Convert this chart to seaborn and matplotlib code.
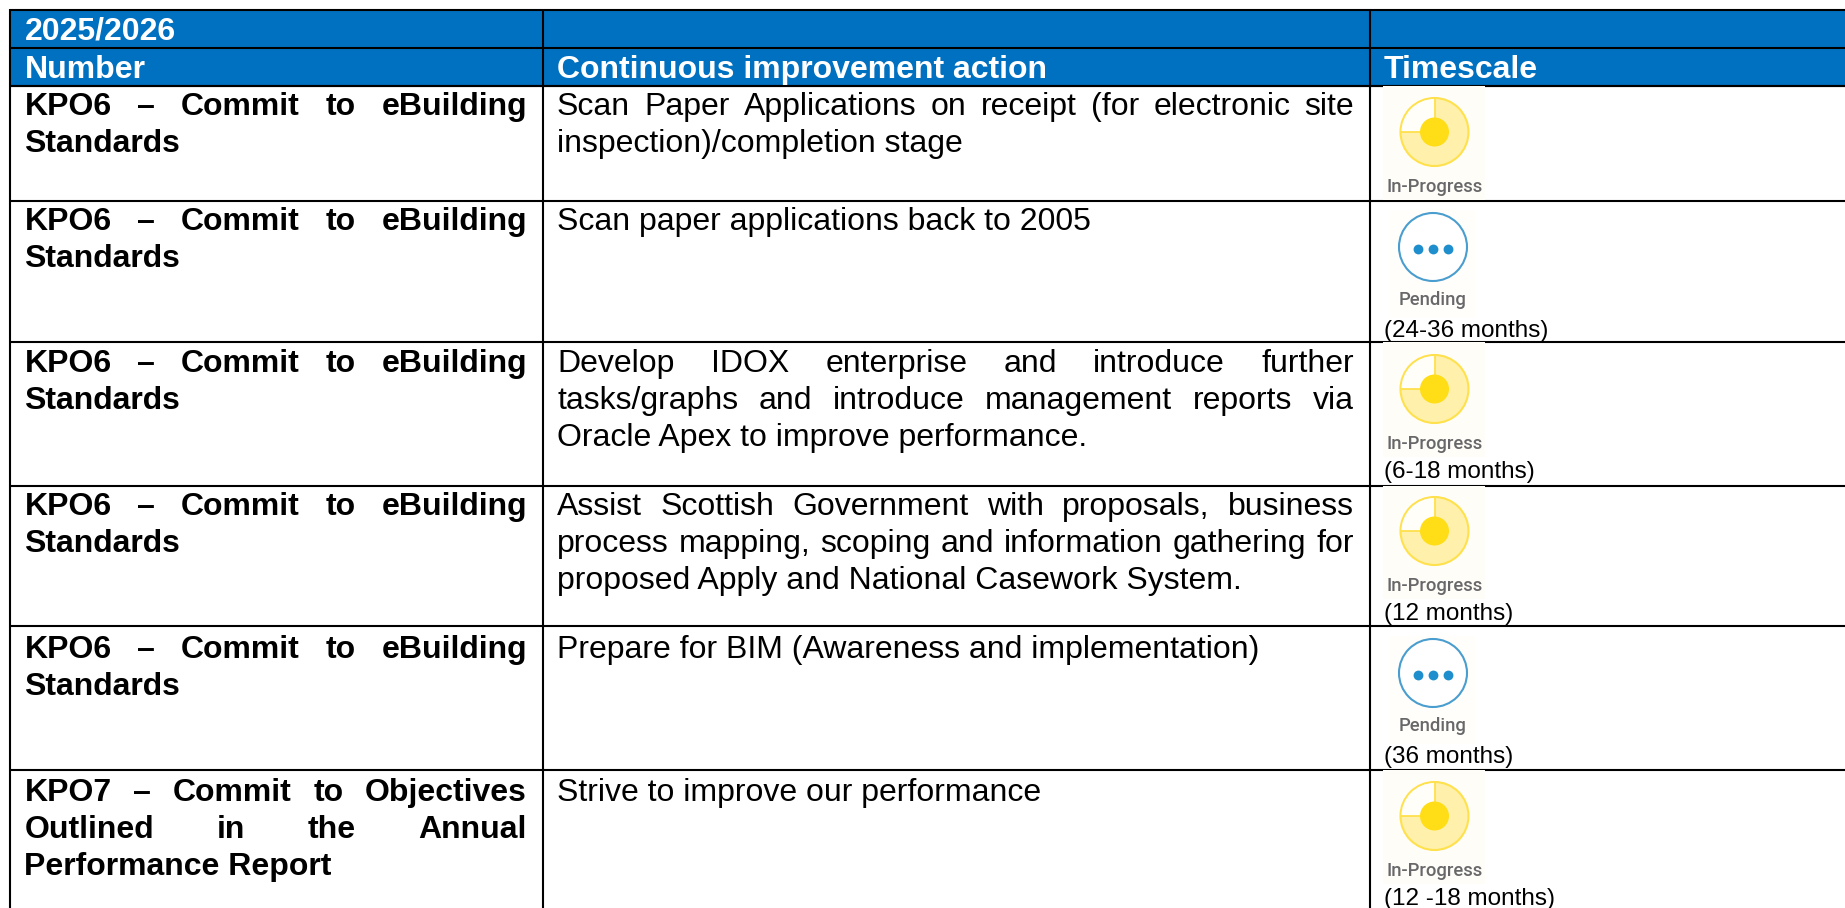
import matplotlib
matplotlib.use("Agg")
import matplotlib.pyplot as plt
import pandas as pd
import seaborn as sns
from matplotlib.patches import Circle, Rectangle, Wedge

# table content
YEAR = "2025/2026"
HEADERS = ["Number", "Continuous improvement action", "Timescale"]
KPO6 = ["KPO6 – Commit to eBuilding", "Standards"]
KPO7 = ["KPO7 – Commit to Objectives", "Outlined in the Annual", "Performance Report"]
NUMBERS = [KPO6, KPO6, KPO6, KPO6, KPO6, KPO7]
ACTIONS = [
    ["Scan Paper Applications on receipt (for electronic site", "inspection)/completion stage"],
    ["Scan paper applications back to 2005"],
    ["Develop IDOX enterprise and introduce further",
     "tasks/graphs and introduce management reports via",
     "Oracle Apex to improve performance."],
    ["Assist Scottish Government with proposals, business",
     "process mapping, scoping and information gathering for",
     "proposed Apply and National Casework System."],
    ["Prepare for BIM (Awareness and implementation)"],
    ["Strive to improve our performance"],
]
STATUS = ["In-Progress", "Pending", "In-Progress", "In-Progress", "Pending", "In-Progress"]
DURATION = ["", "(24-36 months)", "(6-18 months)", "(12 months)", "(36 months)", "(12 -18 months)"]

# layout in pixels of the 1845x908 picture
W, H = 1845, 908
BLUE = "#0070C0"
HEAD_LINES = [10, 48, 86]
ROW_LINES = [86, 201, 342, 486, 626, 770]
COL_X = [10, 543, 1370]
COL1 = (24.5, 527)
COL2 = (557, 1354)
LINE_H = 37
FIRST_BASE = [115, 230, 372, 515, 658, 801]
DUR_BASE = [None, 337, 478, 620, 763, 905]
ICON_CY = [132, 247, 389, 531, 673, 816]
FS = 32 * 0.72
FS_DUR = 24.2 * 0.72

sns.set_theme(style="white")
plt.rcParams["font.family"] = ["Liberation Sans", "DejaVu Sans"]


def draw_line(ax, renderer, s, x0, x1, y, justify, **kw):
    words = s.split(" ")
    if not justify or len(words) < 2:
        ax.text(x0, y, s, va="baseline", ha="left", **kw)
        return
    items = [ax.text(x0, y, w, va="baseline", ha="left", **kw) for w in words]
    widths = [renderer.get_text_width_height_descent(w, t.get_fontproperties(), False)[0]
              for w, t in zip(words, items)]
    gap = (x1 - x0 - sum(widths)) / (len(words) - 1)
    x = x0
    for t, wd in zip(items, widths):
        t.set_x(x)
        x += wd + gap


def draw_block(ax, renderer, lines, x0, x1, y, **kw):
    # every line but the last is justified, like the Word table
    for i, s in enumerate(lines):
        draw_line(ax, renderer, s, x0, x1, y + i * LINE_H, i < len(lines) - 1, **kw)


def draw_in_progress(ax, top, cy):
    ax.add_patch(Rectangle((1383, top), 102, cy - top + 68, fc="#FFFDF8", ec="none", zorder=3))
    cx = 1434.5
    ax.add_patch(Circle((cx, cy), 34, fc="#FFF1AC", ec="#FFE04D", lw=1.5, zorder=4))
    ax.add_patch(Wedge((cx, cy), 33, 180, 270, fc="#FFFEF8", ec="none", zorder=4))
    ax.plot([cx, cx], [cy - 34, cy], color="#FFE04D", lw=1.3, zorder=4)
    ax.plot([cx - 34, cx], [cy, cy], color="#FFE04D", lw=1.3, zorder=4)
    ax.add_patch(Circle((cx, cy), 14.5, fc="#FFDD17", ec="none", zorder=5))
    ax.text(1435, cy + 60, "In-Progress", ha="center", va="baseline", color="#68686A",
            fontsize=13.3, family="Roboto", weight="medium", zorder=5)


def draw_pending(ax, cy):
    ax.add_patch(Rectangle((1390, cy - 37), 85, 108, fc="#FFFEFB", ec="none", zorder=3))
    cx = 1433
    ax.add_patch(Circle((cx, cy), 34, fc="white", ec="#4A9ECF", lw=1.5, zorder=4))
    dots = pd.DataFrame({"x": [cx - 15, cx, cx + 15], "y": [cy + 1.5] * 3})
    sns.scatterplot(data=dots, x="x", y="y", s=50, color="#1E8FCC", linewidth=0, ax=ax, zorder=5)
    ax.text(cx, cy + 58, "Pending", ha="center", va="baseline", color="#68686A",
            fontsize=13.3, family="Roboto", weight="medium", zorder=5)


def main():
    fig = plt.figure(figsize=(W / 100, H / 100), dpi=100)
    ax = fig.add_axes([0, 0, 1, 1])
    renderer = fig.canvas.get_renderer()

    # header band and grid
    ax.add_patch(Rectangle((COL_X[0], HEAD_LINES[0]), W - COL_X[0], HEAD_LINES[2] - HEAD_LINES[0],
                           fc=BLUE, ec="none", zorder=1))
    for y in HEAD_LINES + ROW_LINES:
        ax.plot([COL_X[0], W], [y, y], color="black", lw=1.5, zorder=2, solid_capstyle="butt")
    for x in COL_X:
        ax.plot([x, x], [9, H], color="black", lw=1.5, zorder=2, solid_capstyle="butt")

    head = dict(color="white", fontsize=FS, weight="bold", zorder=6)
    ax.text(COL1[0], 39, YEAR, va="baseline", **head)
    ax.text(COL1[0], 78, HEADERS[0], va="baseline", **head)
    ax.text(COL2[0], 78, HEADERS[1], va="baseline", **head)
    ax.text(1384, 78, HEADERS[2], va="baseline", **head)

    for i in range(len(NUMBERS)):
        draw_block(ax, renderer, NUMBERS[i], COL1[0], COL1[1], FIRST_BASE[i],
                   color="black", fontsize=FS, weight="bold", zorder=6)
        draw_block(ax, renderer, ACTIONS[i], COL2[0], COL2[1], FIRST_BASE[i],
                   color="black", fontsize=FS, zorder=6)
        if STATUS[i] == "Pending":
            draw_pending(ax, ICON_CY[i])
        else:
            draw_in_progress(ax, ROW_LINES[i], ICON_CY[i])
        if DURATION[i]:
            ax.text(1384, DUR_BASE[i], DURATION[i], va="baseline", color="black",
                    fontsize=FS_DUR, zorder=6)

    ax.set_xlim(0, W)
    ax.set_ylim(H, 0)
    ax.axis("off")
    fig.savefig("out.png", dpi=100, facecolor="white")


if __name__ == "__main__":
    main()
